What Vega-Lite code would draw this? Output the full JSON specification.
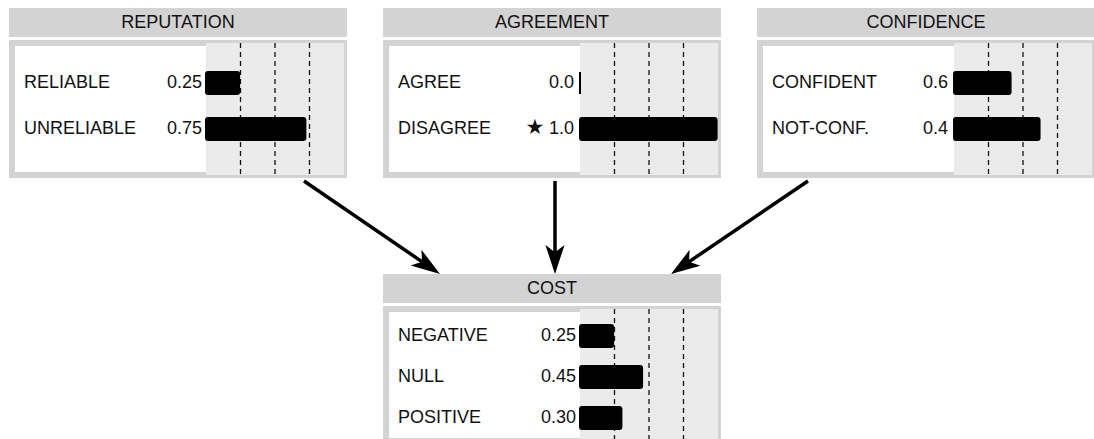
{
  "$schema": "https://vega.github.io/schema/vega-lite/v6.json",
  "padding": {"left": 9, "top": 8, "right": 0, "bottom": 0},
  "background": "white",
  "config": {"view": {"stroke": null}, "font": "Liberation Sans"},
  "datasets": {
    "states": [
      {"node": "REPUTATION", "state": "RELIABLE", "p": 0.24, "label": "0.25", "evidence": ""},
      {"node": "REPUTATION", "state": "UNRELIABLE", "p": 0.72, "label": "0.75", "evidence": ""},
      {"node": "AGREEMENT", "state": "AGREE", "p": 0.0, "label": "0.0", "evidence": ""},
      {"node": "AGREEMENT", "state": "DISAGREE", "p": 0.99, "label": "1.0", "evidence": "★"},
      {"node": "CONFIDENCE", "state": "CONFIDENT", "p": 0.41, "label": "0.6", "evidence": ""},
      {"node": "CONFIDENCE", "state": "NOT-CONF.", "p": 0.62, "label": "0.4", "evidence": ""},
      {"node": "COST", "state": "NEGATIVE", "p": 0.24, "label": "0.25", "evidence": ""},
      {"node": "COST", "state": "NULL", "p": 0.45, "label": "0.45", "evidence": ""},
      {"node": "COST", "state": "POSITIVE", "p": 0.30, "label": "0.30", "evidence": ""}
    ],
    "edges": [
      {"from": "REPUTATION", "to": "COST", "x1": 301, "y1": 179, "x2": 437, "y2": 272},
      {"from": "AGREEMENT", "to": "COST", "x1": 552, "y1": 179, "x2": 552, "y2": 272},
      {"from": "CONFIDENCE", "to": "COST", "x1": 805, "y1": 179, "x2": 668, "y2": 272}
    ],
    "grid": [{"g": 0.25}, {"g": 0.5}, {"g": 0.75}],
    "plot": [{"a": 0, "b": 1}]
  },
  "spacing": 0,
  "vconcat": [
    {
      "hconcat": [
        {
          "vconcat": [
            {
              "width": 332, "height": 23,
              "view": {"fill": "#d3d3d3", "stroke": "#d3d3d3", "strokeWidth": 6},
              "data": {"values": [{"node": "REPUTATION"}]},
              "mark": {"type": "text", "fontSize": 18, "color": "#111", "baseline": "middle"},
              "encoding": {"text": {"field": "node"}}
            },
            {
              "width": 332, "height": 132,
              "view": {"fill": "#ffffff", "stroke": "#d3d3d3", "strokeWidth": 6},
              "layer": [
                {"data": {"name": "plot"}, "mark": {"type": "rect", "color": "#ebebeb"},
                 "encoding": {"x": {"field": "a", "type": "quantitative", "scale": {"domain": [0, 1], "range": [194, 332]}, "axis": null}, "x2": {"field": "b"}}},
                {"data": {"name": "grid"}, "mark": {"type": "rule", "color": "#111", "strokeWidth": 1.3, "strokeDash": [5, 4]},
                 "encoding": {"x": {"field": "g", "type": "quantitative"}}},
                {"data": {"name": "states"}, "transform": [{"filter": "datum.node === 'REPUTATION'"}],
                 "mark": {"type": "bar", "color": "#000", "stroke": "#000", "strokeWidth": 2, "cornerRadius": 2},
                 "encoding": {"x": {"field": "p", "type": "quantitative"},
                   "y": {"field": "state", "type": "nominal", "sort": null, "axis": null, "scale": {"paddingInner": 0.522, "paddingOuter": 0.696, "align": 0.453}}}},
                {"data": {"name": "states"}, "transform": [{"filter": "datum.node === 'REPUTATION'"}],
                 "mark": {"type": "text", "align": "left", "baseline": "middle", "fontSize": 18, "color": "#111"},
                 "encoding": {"x": {"value": 12}, "y": {"field": "state", "type": "nominal", "sort": null}, "text": {"field": "state"}}},
                {"data": {"name": "states"}, "transform": [{"filter": "datum.node === 'REPUTATION'"}],
                 "mark": {"type": "text", "align": "right", "baseline": "middle", "fontSize": 18, "color": "#111"},
                 "encoding": {"x": {"value": 190}, "y": {"field": "state", "type": "nominal", "sort": null}, "text": {"field": "label"}}}
              ]
            }
          ],
          "spacing": 9, "bounds": "flush"
        },
        {
          "vconcat": [
            {
              "width": 332, "height": 23,
              "view": {"fill": "#d3d3d3", "stroke": "#d3d3d3", "strokeWidth": 6},
              "data": {"values": [{"node": "AGREEMENT"}]},
              "mark": {"type": "text", "fontSize": 18, "color": "#111", "baseline": "middle"},
              "encoding": {"text": {"field": "node"}}
            },
            {
              "width": 332, "height": 132,
              "view": {"fill": "#ffffff", "stroke": "#d3d3d3", "strokeWidth": 6},
              "layer": [
                {"data": {"name": "plot"}, "mark": {"type": "rect", "color": "#ebebeb"},
                 "encoding": {"x": {"field": "a", "type": "quantitative", "scale": {"domain": [0, 1], "range": [194, 332]}, "axis": null}, "x2": {"field": "b"}}},
                {"data": {"name": "grid"}, "mark": {"type": "rule", "color": "#111", "strokeWidth": 1.3, "strokeDash": [5, 4]},
                 "encoding": {"x": {"field": "g", "type": "quantitative"}}},
                {"data": {"name": "states"}, "transform": [{"filter": "datum.node === 'AGREEMENT'"}],
                 "mark": {"type": "bar", "color": "#000", "stroke": "#000", "strokeWidth": 2, "cornerRadius": 2},
                 "encoding": {"x": {"field": "p", "type": "quantitative"},
                   "y": {"field": "state", "type": "nominal", "sort": null, "axis": null, "scale": {"paddingInner": 0.522, "paddingOuter": 0.696, "align": 0.453}}}},
                {"data": {"name": "states"}, "transform": [{"filter": "datum.node === 'AGREEMENT'"}],
                 "mark": {"type": "text", "align": "left", "baseline": "middle", "fontSize": 18, "color": "#111"},
                 "encoding": {"x": {"value": 12}, "y": {"field": "state", "type": "nominal", "sort": null}, "text": {"field": "state"}}},
                {"data": {"name": "states"}, "transform": [{"filter": "datum.node === 'AGREEMENT'"}],
                 "mark": {"type": "text", "align": "right", "baseline": "middle", "fontSize": 18, "color": "#111"},
                 "encoding": {"x": {"value": 188}, "y": {"field": "state", "type": "nominal", "sort": null}, "text": {"field": "label"}}},
                {"data": {"name": "states"}, "transform": [{"filter": "datum.node === 'AGREEMENT'"}],
                 "mark": {"type": "text", "align": "center", "baseline": "middle", "fontSize": 21, "color": "#111", "font": "DejaVu Sans", "dy": -1},
                 "encoding": {"x": {"value": 149}, "y": {"field": "state", "type": "nominal", "sort": null}, "text": {"field": "evidence"}}}
              ]
            }
          ],
          "spacing": 9, "bounds": "flush"
        },
        {
          "vconcat": [
            {
              "width": 332, "height": 23,
              "view": {"fill": "#d3d3d3", "stroke": "#d3d3d3", "strokeWidth": 6},
              "data": {"values": [{"node": "CONFIDENCE"}]},
              "mark": {"type": "text", "fontSize": 18, "color": "#111", "baseline": "middle"},
              "encoding": {"text": {"field": "node"}}
            },
            {
              "width": 332, "height": 132,
              "view": {"fill": "#ffffff", "stroke": "#d3d3d3", "strokeWidth": 6},
              "layer": [
                {"data": {"name": "plot"}, "mark": {"type": "rect", "color": "#ebebeb"},
                 "encoding": {"x": {"field": "a", "type": "quantitative", "scale": {"domain": [0, 1], "range": [194, 332]}, "axis": null}, "x2": {"field": "b"}}},
                {"data": {"name": "grid"}, "mark": {"type": "rule", "color": "#111", "strokeWidth": 1.3, "strokeDash": [5, 4]},
                 "encoding": {"x": {"field": "g", "type": "quantitative"}}},
                {"data": {"name": "states"}, "transform": [{"filter": "datum.node === 'CONFIDENCE'"}],
                 "mark": {"type": "bar", "color": "#000", "stroke": "#000", "strokeWidth": 2, "cornerRadius": 2},
                 "encoding": {"x": {"field": "p", "type": "quantitative"},
                   "y": {"field": "state", "type": "nominal", "sort": null, "axis": null, "scale": {"paddingInner": 0.522, "paddingOuter": 0.696, "align": 0.453}}}},
                {"data": {"name": "states"}, "transform": [{"filter": "datum.node === 'CONFIDENCE'"}],
                 "mark": {"type": "text", "align": "left", "baseline": "middle", "fontSize": 18, "color": "#111"},
                 "encoding": {"x": {"value": 12}, "y": {"field": "state", "type": "nominal", "sort": null}, "text": {"field": "state"}}},
                {"data": {"name": "states"}, "transform": [{"filter": "datum.node === 'CONFIDENCE'"}],
                 "mark": {"type": "text", "align": "right", "baseline": "middle", "fontSize": 18, "color": "#111"},
                 "encoding": {"x": {"value": 188}, "y": {"field": "state", "type": "nominal", "sort": null}, "text": {"field": "label"}}}
              ]
            }
          ],
          "spacing": 9, "bounds": "flush"
        }
      ],
      "spacing": 36
    },
    {
      "width": 1085, "height": 94,
      "data": {"name": "edges"},
      "transform": [
        {"calculate": "sqrt((datum.x2 - datum.x1) * (datum.x2 - datum.x1) + (datum.y2 - datum.y1) * (datum.y2 - datum.y1))", "as": "len"},
        {"calculate": "datum.x2 - 14 * (datum.x2 - datum.x1) / datum.len", "as": "ex"},
        {"calculate": "datum.y2 - 14 * (datum.y2 - datum.y1) / datum.len", "as": "ey"},
        {"calculate": "90 + atan2(datum.y2 - datum.y1, datum.x2 - datum.x1) * 180 / PI", "as": "heading"}
      ],
      "layer": [
        {"mark": {"type": "rule", "color": "#000", "strokeWidth": 3.5},
         "encoding": {
           "x": {"field": "x1", "type": "quantitative", "scale": {"domain": [9, 1094], "range": [0, 1085], "zero": false, "nice": false}, "axis": null},
           "y": {"field": "y1", "type": "quantitative", "scale": {"domain": [178, 272], "range": [0, 94], "zero": false, "nice": false}, "axis": null},
           "x2": {"field": "ex"}, "y2": {"field": "ey"}}},
        {"mark": {"type": "point", "shape": "M0,0L0.66,2L0,1.5L-0.66,2Z", "filled": true, "color": "#000", "opacity": 1, "size": 841},
         "encoding": {
           "x": {"field": "x2", "type": "quantitative"},
           "y": {"field": "y2", "type": "quantitative"},
           "angle": {"field": "heading", "type": "quantitative", "scale": null}}}
      ]
    },
    {
      "hconcat": [
        {"width": 332, "height": 20, "data": {"values": []}, "mark": "point"},
        {
          "vconcat": [
            {
              "width": 332, "height": 23,
              "view": {"fill": "#d3d3d3", "stroke": "#d3d3d3", "strokeWidth": 6},
              "data": {"values": [{"node": "COST"}]},
              "mark": {"type": "text", "fontSize": 18, "color": "#111", "baseline": "middle"},
              "encoding": {"text": {"field": "node"}}
            },
            {
              "width": 332, "height": 132,
              "view": {"fill": "#ffffff", "stroke": "#d3d3d3", "strokeWidth": 6},
              "layer": [
                {"data": {"name": "plot"}, "mark": {"type": "rect", "color": "#ebebeb"},
                 "encoding": {"x": {"field": "a", "type": "quantitative", "scale": {"domain": [0, 1], "range": [194, 332]}, "axis": null}, "x2": {"field": "b"}}},
                {"data": {"name": "grid"}, "mark": {"type": "rule", "color": "#111", "strokeWidth": 1.3, "strokeDash": [5, 4]},
                 "encoding": {"x": {"field": "g", "type": "quantitative"}}},
                {"data": {"name": "states"}, "transform": [{"filter": "datum.node === 'COST'"}],
                 "mark": {"type": "bar", "color": "#000", "stroke": "#000", "strokeWidth": 2, "cornerRadius": 2},
                 "encoding": {"x": {"field": "p", "type": "quantitative"},
                   "y": {"field": "state", "type": "nominal", "sort": null, "axis": null, "scale": {"paddingInner": 0.463, "paddingOuter": 0.341, "align": 0.571}}}},
                {"data": {"name": "states"}, "transform": [{"filter": "datum.node === 'COST'"}],
                 "mark": {"type": "text", "align": "left", "baseline": "middle", "fontSize": 18, "color": "#111"},
                 "encoding": {"x": {"value": 12}, "y": {"field": "state", "type": "nominal", "sort": null}, "text": {"field": "state"}}},
                {"data": {"name": "states"}, "transform": [{"filter": "datum.node === 'COST'"}],
                 "mark": {"type": "text", "align": "right", "baseline": "middle", "fontSize": 18, "color": "#111"},
                 "encoding": {"x": {"value": 190}, "y": {"field": "state", "type": "nominal", "sort": null}, "text": {"field": "label"}}}
              ]
            }
          ],
          "spacing": 9, "bounds": "flush"
        }
      ],
      "spacing": 39
    }
  ]
}
